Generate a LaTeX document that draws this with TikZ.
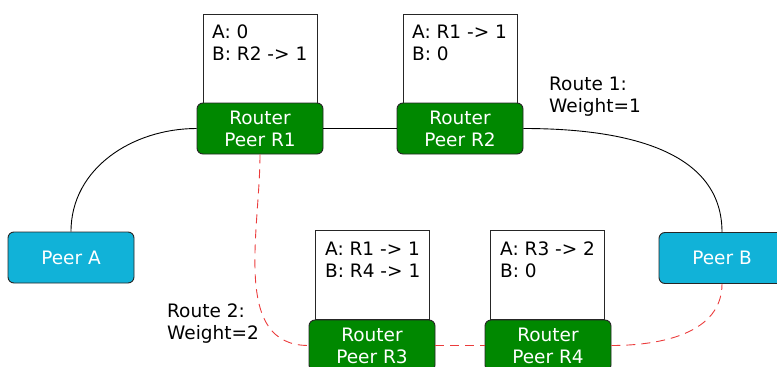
\documentclass[tikz,border=0pt]{standalone}
\usepackage{fontspec}
\setmainfont{DejaVu Sans}
\definecolor{routergreen}{RGB}{0,136,0}
\definecolor{peercyan}{RGB}{17,178,216}
\definecolor{routered}{RGB}{235,60,60}

\begin{document}
\begin{tikzpicture}[x=1pt,y=-1pt,
    font=\fontsize{18.5}{22}\selectfont,
    router/.style={draw=black!85, line width=0.9pt, fill=routergreen, text=white,
      rounded corners=6pt, minimum width=126pt, minimum height=51pt, inner sep=0pt, align=center},
    peer/.style={router, fill=peercyan},
    rtable/.style={draw=black!85, line width=0.9pt, fill=white, minimum width=114pt,
      minimum height=89pt, inner sep=0pt},
    rows/.style={anchor=north west, align=left, inner sep=0pt},
    route1/.style={black, line width=0.9pt},
    route2/.style={routered, line width=0.9pt, dash pattern=on 9pt off 6pt}]
      \useasboundingbox (0, 0) rectangle (777, 367);
      % routing tables
      \node[rtable] (t1) at (260, 58.5) {};
      \node[rtable] (t2) at (460, 58.5) {};
      \node[rtable] (t3) at (372.5, 275) {};
      \node[rtable] (t4) at (547.5, 275) {};
      \node[rows] (t1rows) at (212, 25) {A: 0\\B: R2 -> 1};
      \node[rows] (t2rows) at (412, 25) {A: R1 -> 1\\B: 0};
      \node[rows] (t3rows) at (325, 242) {A: R1 -> 1\\B: R4 -> 1};
      \node[rows] (t4rows) at (500, 242) {A: R3 -> 2\\B: 0};
      % routers and peers
      \node[router] (r1) at (260, 128.5) {Router\\Peer R1};
      \node[router] (r2) at (460, 128.5) {Router\\Peer R2};
      \node[router] (r3) at (372, 345.5) {Router\\Peer R3};
      \node[router] (r4) at (548, 345.5) {Router\\Peer R4};
      \node[peer] (pa) at (71, 257.5) {Peer A};
      \node[peer] (pb) at (722, 258) {Peer B};
      % route 1
      \draw [route1] (pa.north) to[out=90,in=180] (r1.west);
      \draw [route1] (r1.east) -- (r2.west);
      \draw [route1] (r2.east) to[out=0,in=90] (pb.north);
      \node[rows] (w1) at (549, 77) {Route 1:\\Weight=1};
      % route 2
      \draw [route2] (r1.south) to[out=-90,in=180] (r3.west);
      \draw [route2] (r3.east) -- (r4.west);
      \draw [route2] (r4.east) to[out=0,in=-90] (pb.south);
      \node[rows] (w2) at (167, 304) {Route 2:\\Weight=2};
    \end{tikzpicture}
\end{document}
